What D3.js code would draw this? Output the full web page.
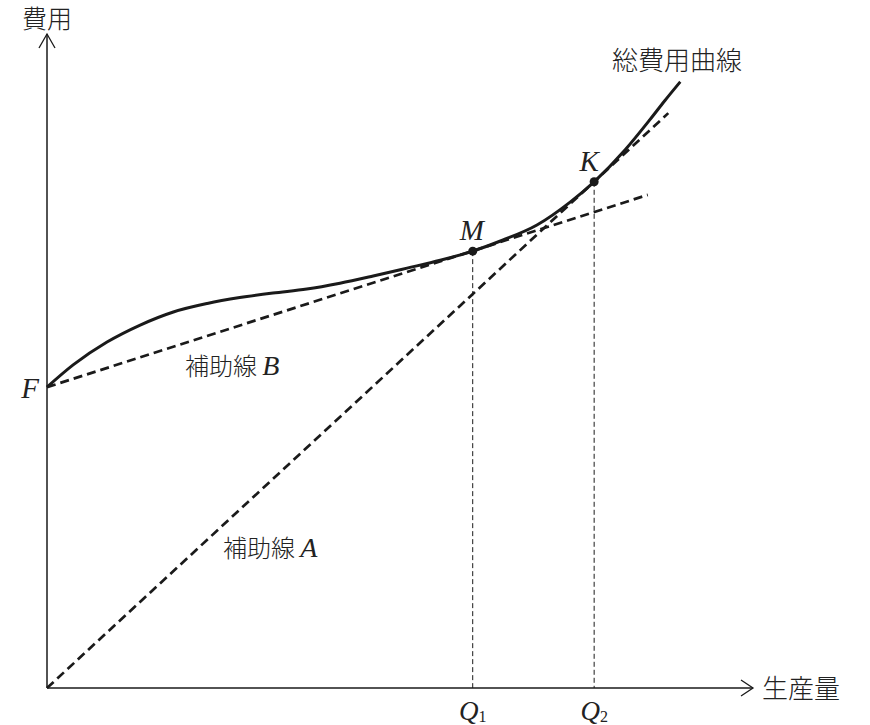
<!DOCTYPE html>
<html>
<head>
<meta charset="utf-8">
<script src="https://cdn.jsdelivr.net/npm/d3@7"></script>
<style>
  body { margin: 0; background: #fff; }
  .jp { font-family: "Noto Sans CJK JP", sans-serif; font-weight: 300; fill: #222; }
  .it { font-family: "Liberation Serif", "DejaVu Serif", serif; font-style: italic; font-weight: normal; fill: #222; }
</style>
</head>
<body>
<div id="chart"></div>
<script>
// total cost curve (quantity, cost)
var costQ = [0, 0.37, 0.85, 1.32, 1.79, 2.27, 2.73, 3.20, 3.68, 4.15, 4.62, 5.10, 5.57, 6.03, 6.46, 6.94, 7.41, 7.75, 8.19, 8.54, 8.75, 8.97];
var costC = [4.60, 4.94, 5.29, 5.55, 5.75, 5.88, 5.97, 6.04, 6.10, 6.19, 6.30, 6.42, 6.54, 6.68, 6.85, 7.08, 7.43, 7.74, 8.23, 8.69, 8.98, 9.27];
// helper lines: start and end points
var lineA = [[0, 0], [8.80, 8.79]];
var lineB = [[0, 4.60], [8.51, 7.54]];
// marked points
var pointNames = ["M", "K"];
var pointQ = [6.03, 7.75];
var pointC = [6.68, 7.74];
var qLabels = ["1", "2"];
var fixedCost = 4.60;

var width = 870, height = 725;
var svg = d3.select("#chart").append("svg").attr("width", width).attr("height", height);

var x = d3.scaleLinear().domain([0, 10]).range([47, 753]);
var y = d3.scaleLinear().domain([0, 10]).range([688, 34]);

var ink = "#1a1a1a";

// axes
svg.append("line")
    .attr("x1", x(0)).attr("y1", y(0)).attr("x2", x(10)).attr("y2", y(0))
    .attr("stroke", ink).attr("stroke-width", 1.5);
svg.append("line")
    .attr("x1", x(0)).attr("y1", y(0)).attr("x2", x(0)).attr("y2", y(10))
    .attr("stroke", ink).attr("stroke-width", 1.5);
// arrow heads (open chevrons)
svg.append("path")
    .attr("d", "M" + (x(10) - 12) + "," + (y(0) - 8) + "L" + x(10) + "," + y(0) + "L" + (x(10) - 12) + "," + (y(0) + 8))
    .attr("fill", "none").attr("stroke", ink).attr("stroke-width", 1.3);
svg.append("path")
    .attr("d", "M" + (x(0) - 8) + "," + (y(10) + 14) + "L" + x(0) + "," + y(10) + "L" + (x(0) + 8) + "," + (y(10) + 14))
    .attr("fill", "none").attr("stroke", ink).attr("stroke-width", 1.3);

// vertical guides to Q1, Q2
svg.selectAll(".guide")
    .data(pointQ)
    .enter().append("line")
    .attr("class", "guide")
    .attr("x1", function(d) { return x(d); })
    .attr("x2", function(d) { return x(d); })
    .attr("y1", function(d, i) { return y(pointC[i]); })
    .attr("y2", y(0))
    .attr("stroke", ink).attr("stroke-width", 1)
    .attr("stroke-dasharray", "5,3");

// helper lines
var straight = d3.line().x(function(d) { return x(d[0]); }).y(function(d) { return y(d[1]); });
[lineA, lineB].forEach(function(l) {
    svg.append("path")
        .attr("d", straight(l))
        .attr("fill", "none")
        .attr("stroke", ink)
        .attr("stroke-width", 2.7)
        .attr("stroke-dasharray", "9,5");
});

// total cost curve
var curve = d3.line()
    .x(function(d, i) { return x(costQ[i]); })
    .y(function(d, i) { return y(costC[i]); })
    .curve(d3.curveMonotoneX);
svg.append("path")
    .attr("d", curve(costQ))
    .attr("fill", "none")
    .attr("stroke", ink)
    .attr("stroke-width", 3);

// points M and K
svg.selectAll(".pt")
    .data(pointQ)
    .enter().append("circle")
    .attr("class", "pt")
    .attr("cx", function(d) { return x(d); })
    .attr("cy", function(d, i) { return y(pointC[i]); })
    .attr("r", 4.5)
    .attr("fill", ink);

svg.selectAll(".ptlabel")
    .data(pointNames)
    .enter().append("text")
    .attr("class", "it")
    .attr("x", function(d, i) { return x(pointQ[i]) - (i == 0 ? 1 : 5); })
    .attr("y", function(d, i) { return y(pointC[i]) - 11; })
    .attr("text-anchor", "middle")
    .style("font-size", "29px")
    .text(function(d) { return d; });

// Q labels
var ql = svg.selectAll(".qlabel")
    .data(pointQ)
    .enter().append("text")
    .attr("class", "it")
    .attr("x", function(d) { return x(d); })
    .attr("y", y(0) + 32)
    .attr("text-anchor", "middle")
    .style("font-size", "27px");
ql.append("tspan").text("Q");
ql.append("tspan")
    .style("font-style", "normal")
    .style("font-size", "16px")
    .attr("dy", 2)
    .text(function(d, i) { return qLabels[i]; });

// F label
svg.append("text")
    .attr("class", "it")
    .attr("x", x(0) - 8)
    .attr("y", y(fixedCost) + 11)
    .attr("text-anchor", "end")
    .style("font-size", "29px")
    .text("F");

// axis titles
svg.append("text").attr("class", "jp")
    .attr("x", 22).attr("y", 28)
    .style("font-size", "25px").text("費用");
svg.append("text").attr("class", "jp")
    .attr("x", 762).attr("y", y(0) + 10)
    .style("font-size", "26px").text("生産量");
svg.append("text").attr("class", "jp")
    .attr("x", 612).attr("y", 70)
    .style("font-size", "26px").text("総費用曲線");

// helper line labels
var hb = svg.append("text").attr("class", "jp")
    .attr("x", 185).attr("y", 375)
    .style("font-size", "24px");
hb.append("tspan").text("補助線 ");
hb.append("tspan").attr("class", "it").style("font-size", "28px").text("B");

var ha = svg.append("text").attr("class", "jp")
    .attr("x", 223).attr("y", 557)
    .style("font-size", "24px");
ha.append("tspan").text("補助線 ");
ha.append("tspan").attr("class", "it").style("font-size", "28px").text("A");
</script>
</body>
</html>
